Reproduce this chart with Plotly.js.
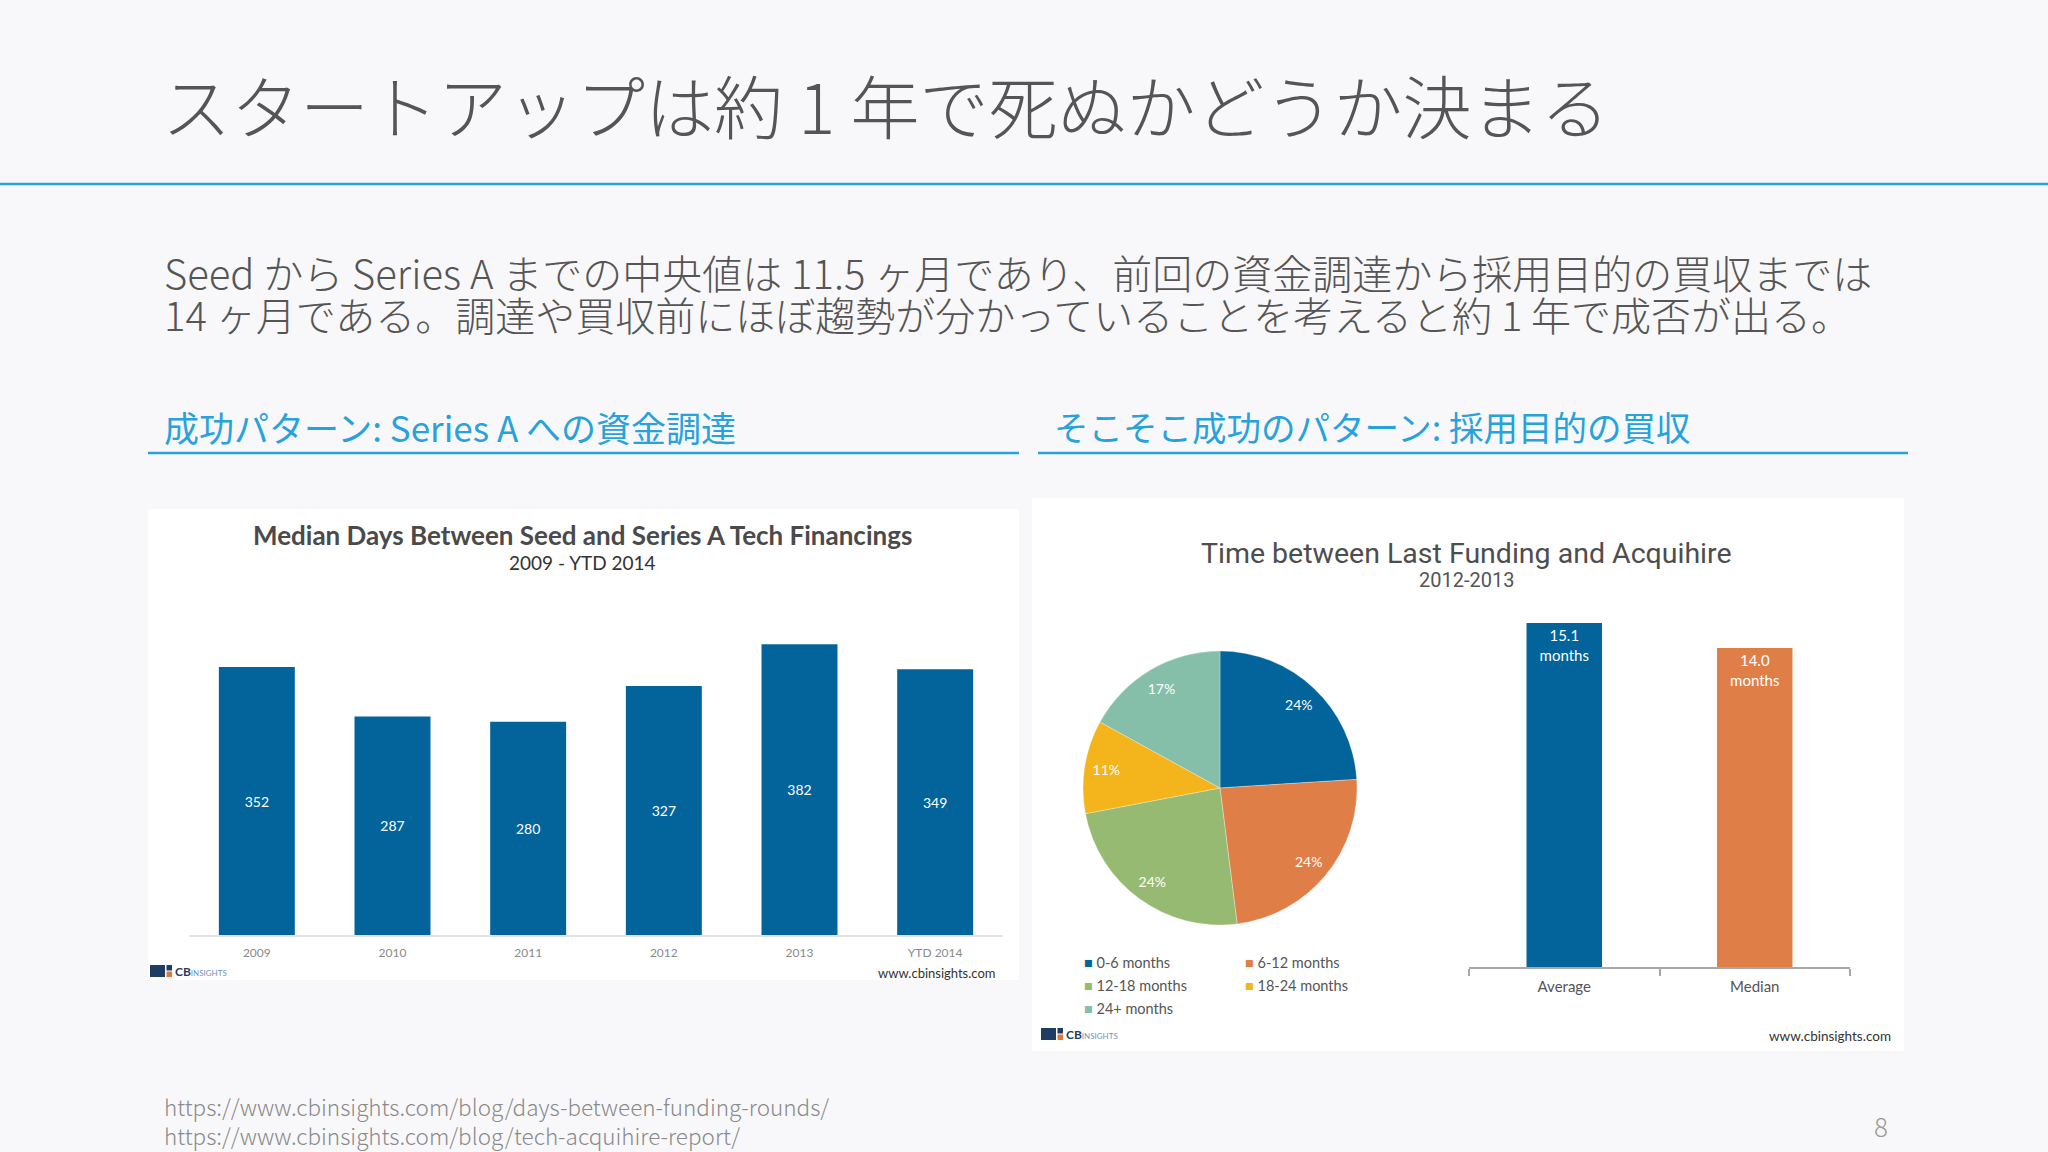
<!DOCTYPE html>
<html><head><meta charset="utf-8">
<script src="https://cdn.plot.ly/plotly-3.0.1.min.js"></script>
<style>html,body{margin:0;padding:0;background:#f8f8fa;} #chart{width:2048px;height:1152px;}</style>
</head><body><div id="chart"></div>
<script>
const W = 2048, H = 1152;

// ---- data ----
const seedYears = ['2009', '2010', '2011', '2012', '2013', 'YTD 2014'];
const seedDays = [352, 287, 280, 327, 382, 349];

const pieLabels = ['0-6 months', '6-12 months', '12-18 months', '18-24 months', '24+ months'];
const pieShares = [24, 24, 24, 11, 17];
const pieColors = ['#03639b', '#df7f47', '#97ba72', '#f4b41c', '#85bea9'];

const statLabels = ['Average', 'Median'];
const statMonths = [15.1, 14.0];
const statColors = ['#03639b', '#df7f47'];

const slideTitle = 'スタートアップは約 1 年で死ぬかどうか決まる';
const bodyLines = [
  'Seed から Series A までの中央値は 11.5 ヶ月であり、前回の資金調達から採用目的の買収までは',
  '14 ヶ月である。調達や買収前にほぼ趨勢が分かっていることを考えると約 1 年で成否が出る。'
];
const headings = ['成功パターン: Series A への資金調達', 'そこそこ成功のパターン: 採用目的の買収'];
const sourceUrls = ['https://www.cbinsights.com/blog/days-between-funding-rounds/',
                    'https://www.cbinsights.com/blog/tech-acquihire-report/'];
const pageNumber = '8';

// ---- helpers (pixel -> paper) ----
const px = x => x / W;
const py = y => 1 - y / H;

const JP = 'Noto Sans CJK JP, Noto Sans, sans-serif';
const GILL = 'Lato, Open Sans, sans-serif';
const SANS = 'Roboto, Liberation Sans, sans-serif';
const ACCENT = '#27a2dc';
const pieDomain = { x: [px(1083), px(1357)], y: [py(925), py(651)] };

const traces = [
  {
    type: 'bar', x: seedYears, y: seedDays, xaxis: 'x', yaxis: 'y',
    marker: { color: '#03639b', line: { width: 0 } },
    width: 0.56,
    text: seedDays.map(String), textposition: 'inside', insidetextanchor: 'middle',
    textangle: 0, constraintext: 'none',
    textfont: { family: GILL, size: 14, color: '#ffffff' },
    hoverinfo: 'x+y', showlegend: false
  },
  {
    type: 'bar', x: statLabels, y: statMonths, xaxis: 'x2', yaxis: 'y2',
    marker: { color: statColors, line: { width: 0 } },
    width: 0.396,
    text: statMonths.map(v => v.toFixed(1) + '<br>months'),
    textposition: 'inside', insidetextanchor: 'end', textangle: 0, constraintext: 'none',
    textfont: { family: GILL, size: 15, color: '#ffffff' },
    hoverinfo: 'x+y', showlegend: false
  },
  {
    // coloured slices
    type: 'pie', labels: pieLabels, values: pieShares, sort: false,
    direction: 'clockwise', rotation: 0, domain: pieDomain,
    marker: { colors: pieColors, line: { width: 0.5, color: 'rgba(255,255,255,0.6)' } },
    textinfo: 'none', showlegend: false, hoverinfo: 'label+value'
  },
  {
    // transparent outer ring that carries the percentage labels near the rim
    type: 'pie', labels: pieLabels, values: pieShares, sort: false,
    direction: 'clockwise', rotation: 0, domain: pieDomain, hole: 0.68,
    marker: { colors: pieColors.map(() => 'rgba(0,0,0,0)'), line: { width: 0 } },
    texttemplate: '%{value}%', textposition: 'inside', insidetextorientation: 'horizontal',
    textfont: { family: GILL, size: 14, color: '#ffffff' },
    showlegend: false, hoverinfo: 'skip'
  }
];

const annotations = [];
function txt(x, y, text, size, color, family, opts, weight) {
  const font = { size: size, color: color, family: family };
  if (weight) font.weight = weight;
  annotations.push(Object.assign({
    xref: 'paper', yref: 'paper', x: px(x), y: py(y), text: text, showarrow: false,
    xanchor: 'left', yanchor: 'middle', align: 'left', font: font
  }, opts || {}));
}

txt(160, 104, slideTitle, 69, '#555555', JP, {}, 300);
txt(162, 272, bodyLines[0], 40, '#555555', JP, {}, 300);
txt(162, 314, bodyLines[1], 40, '#555555', JP, {}, 300);
txt(162, 426, headings[0], 35, ACCENT, JP);
txt(1052, 426, headings[1], 34.5, ACCENT, JP);

// left chart texts
txt(582, 535, '<b>Median Days Between Seed and Series A Tech Financings</b>', 26, '#4a4a4a', GILL, { xanchor: 'center' });
txt(582, 562, '2009 - YTD 2014', 19, '#333333', GILL, { xanchor: 'center' });
txt(997, 973, 'www.cbinsights.com', 13, '#333333', GILL, { xanchor: 'right' });

// right chart texts
txt(1466, 553, 'Time between Last Funding and Acquihire', 28.5, '#4d4d4d', SANS, { xanchor: 'center' });
txt(1466, 580, '2012-2013', 20, '#555555', SANS, { xanchor: 'center' });
txt(1893, 1036, 'www.cbinsights.com', 13.5, '#333333', GILL, { xanchor: 'right' });

// pie legend (two columns) built from pie arrays
pieLabels.forEach((lab, i) => {
  const col = i % 2, row = Math.floor(i / 2);
  txt(1082 + col * 161, 962 + row * 23,
      '<span style="color:' + pieColors[i] + '">■</span> ' + lab, 14.5, '#555555', GILL);
});

// footer
txt(162, 1120, sourceUrls.join('<br>'), 22.5, '#8a8a8a', JP, {}, 300);
txt(1881, 1125, pageNumber, 26, '#9a9a9a', JP, { xanchor: 'center' }, 300);

const shapes = [
  // panels
  { type: 'rect', xref: 'paper', yref: 'paper', x0: px(148), x1: px(1019), y0: py(980), y1: py(509), fillcolor: '#ffffff', line: { width: 0 }, layer: 'below' },
  { type: 'rect', xref: 'paper', yref: 'paper', x0: px(1032), x1: px(1904), y0: py(1051), y1: py(498), fillcolor: '#ffffff', line: { width: 0 }, layer: 'below' },
  // rules
  { type: 'line', xref: 'paper', yref: 'paper', x0: 0, x1: 1, y0: py(184), y1: py(184), line: { color: ACCENT, width: 2.5 } },
  { type: 'line', xref: 'paper', yref: 'paper', x0: px(148), x1: px(1019), y0: py(453), y1: py(453), line: { color: ACCENT, width: 2.5 } },
  { type: 'line', xref: 'paper', yref: 'paper', x0: px(1038), x1: px(1908), y0: py(453), y1: py(453), line: { color: ACCENT, width: 2.5 } }
];

// CB Insights logos
function logo(x, y) {
  shapes.push({ type: 'rect', xref: 'paper', yref: 'paper', x0: px(x), x1: px(x + 15), y0: py(y + 6), y1: py(y - 6), fillcolor: '#1f3d62', line: { width: 0 } });
  shapes.push({ type: 'rect', xref: 'paper', yref: 'paper', x0: px(x + 16.5), x1: px(x + 22), y0: py(y - 0.5), y1: py(y - 6), fillcolor: '#1f3d62', line: { width: 0 } });
  shapes.push({ type: 'rect', xref: 'paper', yref: 'paper', x0: px(x + 16.5), x1: px(x + 22), y0: py(y + 6), y1: py(y + 0.5), fillcolor: '#e0783c', line: { width: 0 } });
  txt(x + 23, y, '<b>CB</b><span style="font-size:8px;color:#6f93bb">INSIGHTS</span>', 12, '#1f3d62', GILL);
}
logo(150, 971);
logo(1041, 1034);

const layout = {
  width: W, height: H,
  margin: { l: 0, r: 0, t: 0, b: 0 },
  paper_bgcolor: '#f8f8fa', plot_bgcolor: 'rgba(0,0,0,0)',
  showlegend: false,
  xaxis: {
    domain: [px(189), px(1003)], anchor: 'y', type: 'category',
    showline: true, linecolor: '#e2e2e2', linewidth: 2,
    ticks: '', showgrid: false, zeroline: false, ticklabelstandoff: 6,
    tickfont: { family: GILL, size: 12, color: '#8a8a8a' }
  },
  yaxis: {
    domain: [py(935), py(600)], anchor: 'x', range: [0, 440],
    visible: false, showgrid: false, zeroline: false
  },
  xaxis2: {
    domain: [px(1469), px(1850)], anchor: 'y2', type: 'category',
    showline: true, linecolor: '#a8a8a8', linewidth: 2,
    ticks: 'outside', tickson: 'boundaries', ticklen: 7, tickwidth: 2, tickcolor: '#a8a8a8',
    showgrid: false, zeroline: false, ticklabelstandoff: 5,
    tickfont: { family: GILL, size: 15, color: '#555555' }
  },
  yaxis2: {
    domain: [py(967), py(602.5)], anchor: 'x2', range: [0, 16],
    visible: false, showgrid: false, zeroline: false
  },
  annotations: annotations,
  shapes: shapes
};

Plotly.newPlot('chart', traces, layout, { displayModeBar: false, staticPlot: true });
</script>
</body></html>
